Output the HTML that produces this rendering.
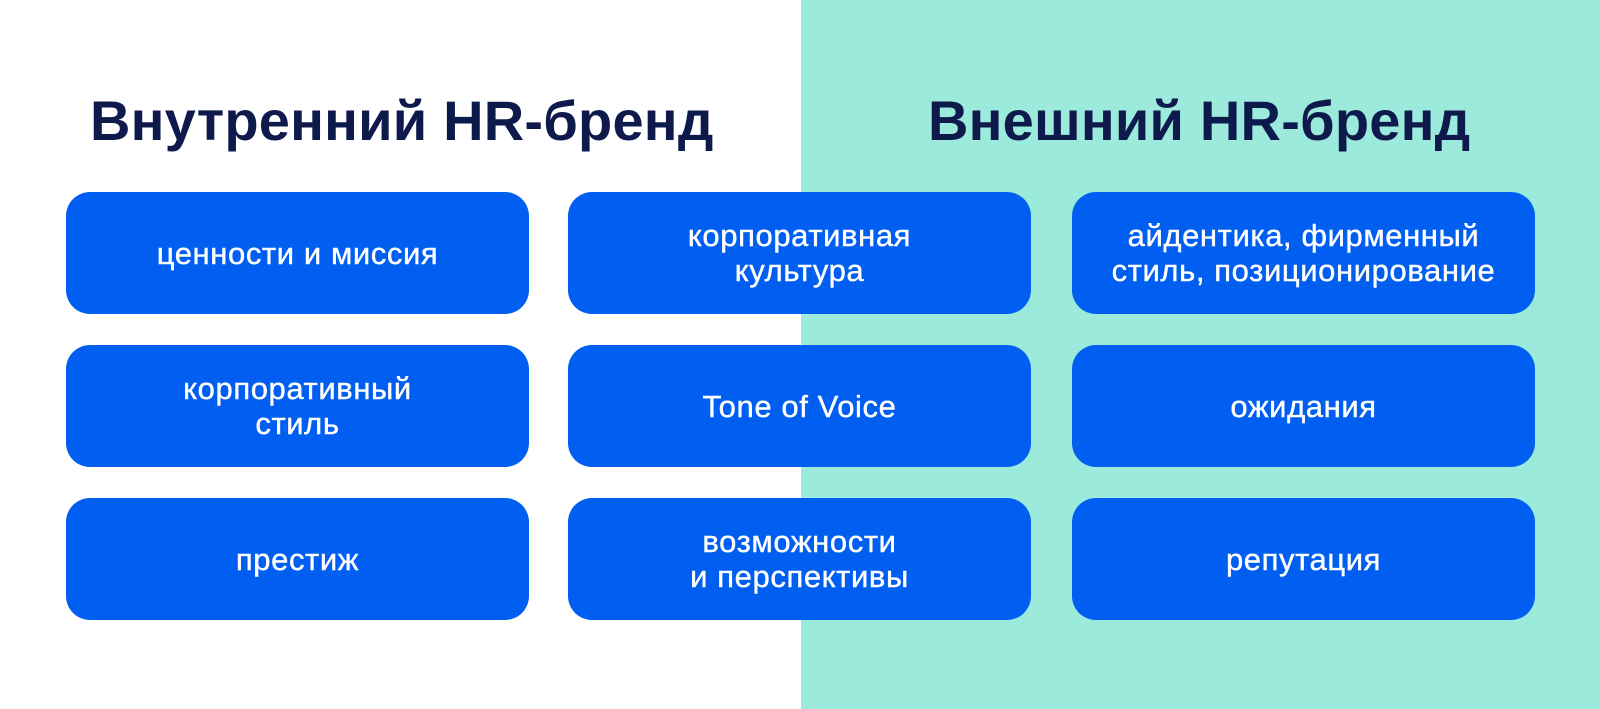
<!DOCTYPE html>
<html><head><meta charset="utf-8"><style>
html,body{margin:0;padding:0}
body{width:1600px;height:709px;position:relative;overflow:hidden;background:#fff;font-family:"Liberation Sans",sans-serif}
.teal{position:absolute;left:801px;top:0;width:799px;height:709px;background:#9beadb}
h1{position:absolute;margin:0;top:88px;font-size:56px;font-weight:bold;color:#0e1a4c;white-space:nowrap;letter-spacing:0.2px}
.b{position:absolute;width:463px;height:122px;border-radius:24px;background:#005ef0;color:#fff;display:flex;align-items:center;justify-content:center;text-align:center;font-size:31px;line-height:35px;letter-spacing:0.6px;-webkit-text-stroke:0.4px #fff}
</style></head><body>
<div class="teal"></div>
<h1 style="left:90px">Внутренний HR-бренд</h1>
<h1 style="left:928px">Внешний HR-бренд</h1>
<div class="b" style="left:66px;top:192px">ценности и миссия</div>
<div class="b" style="left:568px;top:192px">корпоративная<br>культура</div>
<div class="b" style="left:1072px;top:192px">айдентика, фирменный<br>стиль, позиционирование</div>
<div class="b" style="left:66px;top:345px">корпоративный<br>стиль</div>
<div class="b" style="left:568px;top:345px">Tone of Voice</div>
<div class="b" style="left:1072px;top:345px">ожидания</div>
<div class="b" style="left:66px;top:498px">престиж</div>
<div class="b" style="left:568px;top:498px">возможности<br>и перспективы</div>
<div class="b" style="left:1072px;top:498px">репутация</div>
</body></html>
